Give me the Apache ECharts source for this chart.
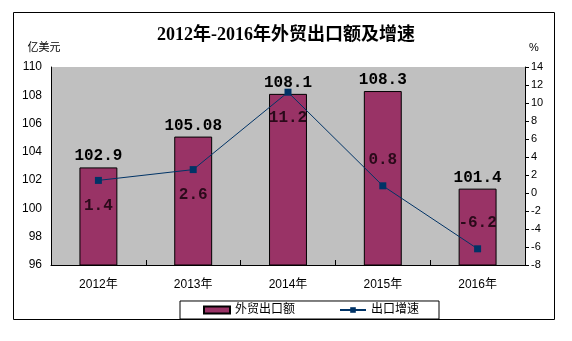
<!DOCTYPE html>
<html><head><meta charset="utf-8">
<script src="https://cdn.jsdelivr.net/npm/echarts@6/dist/echarts.min.js"></script>
<style>html,body{margin:0;padding:0;background:#fff}#c{width:572px;height:341px}</style>
</head><body><div id="c"></div>
<script>
var categories = ['2012年','2013年','2014年','2015年','2016年'];
var exportValues = [102.9, 105.08, 108.1, 108.3, 101.4];
var growthRates = [1.4, 2.6, 11.2, 0.8, -6.2];
var growthLabelPos = ['bottom','bottom','bottom','top','top'];
var title = '2012年-2016年外贸出口额及增速';
var seriesNames = ['外贸出口额','出口增速'];

var serif = '"Liberation Serif","DejaVu Serif","Noto Sans CJK SC",serif';
var mono = '"Liberation Mono","DejaVu Sans Mono",monospace';
var sans = '"Liberation Sans","Noto Sans CJK SC",sans-serif';

var chart = echarts.init(document.getElementById('c'), null, {renderer:'canvas'});
chart.setOption({
  animation:false,
  backgroundColor:'#fff',
  title:{text:title,left:'center',top:21,textStyle:{fontFamily:serif,fontSize:18,fontWeight:'bold',color:'#000'}},
  graphic:[{type:'rect',shape:{x:13.5,y:12.5,width:541,height:307},style:{fill:null,stroke:'#000',lineWidth:1},z:-1}],
  grid:{left:51,right:47,top:67,bottom:76,show:true,backgroundColor:'#c0c0c0',borderWidth:0},
  legend:{bottom:22,left:180,itemGap:44,itemWidth:26,itemHeight:7,padding:[3,20,3,23],borderColor:'#000',borderWidth:1,
    textStyle:{fontFamily:sans,fontSize:12,color:'#000'},
    data:[{name:seriesNames[0],icon:'rect'},{name:seriesNames[1]}]},
  xAxis:{type:'category',data:categories,axisLine:{onZero:false,lineStyle:{color:'#000'}},
    axisTick:{show:true,inside:true,length:5,lineStyle:{color:'#000'}},
    axisLabel:{fontFamily:sans,fontSize:12,color:'#000',margin:14}},
  yAxis:[
    {type:'value',min:96,max:110,interval:2,name:'亿美元',nameLocation:'end',nameGap:14,
     nameTextStyle:{fontFamily:sans,fontSize:11,color:'#000',align:'center',padding:[0,14,0,0]},
     axisLine:{show:true,lineStyle:{color:'#000'}},axisTick:{show:false},splitLine:{show:false},
     axisLabel:{fontFamily:sans,fontSize:12,color:'#000',margin:9}},
    {type:'value',min:-8,max:14,interval:2,name:'%',nameLocation:'end',nameGap:14,
     nameTextStyle:{fontFamily:sans,fontSize:11,color:'#000',padding:[0,0,0,18]},
     axisLine:{show:true,lineStyle:{color:'#000'}},axisTick:{show:true,length:4,lineStyle:{color:'#000'}},splitLine:{show:false},
     axisLabel:{fontFamily:sans,fontSize:11,color:'#000',margin:6}}
  ],
  series:[
    {name:seriesNames[0],type:'bar',data:exportValues,barWidth:'40%',
     itemStyle:{color:'#993366',borderColor:'#000',borderWidth:1},
     label:{show:true,position:'top',distance:3,fontFamily:mono,fontSize:16,fontWeight:'bold',color:'#000'}},
    {name:seriesNames[1],type:'line',yAxisIndex:1,
     data:growthRates.map(function(v,i){return {value:v,label:{position:growthLabelPos[i]}};}),
     symbol:'rect',symbolSize:7,lineStyle:{color:'#003366',width:1},itemStyle:{color:'#003366'},
     label:{show:true,distance:14,fontFamily:mono,fontSize:16,fontWeight:'bold',color:'#2a0a1a'}}
  ]
});
</script></body></html>
